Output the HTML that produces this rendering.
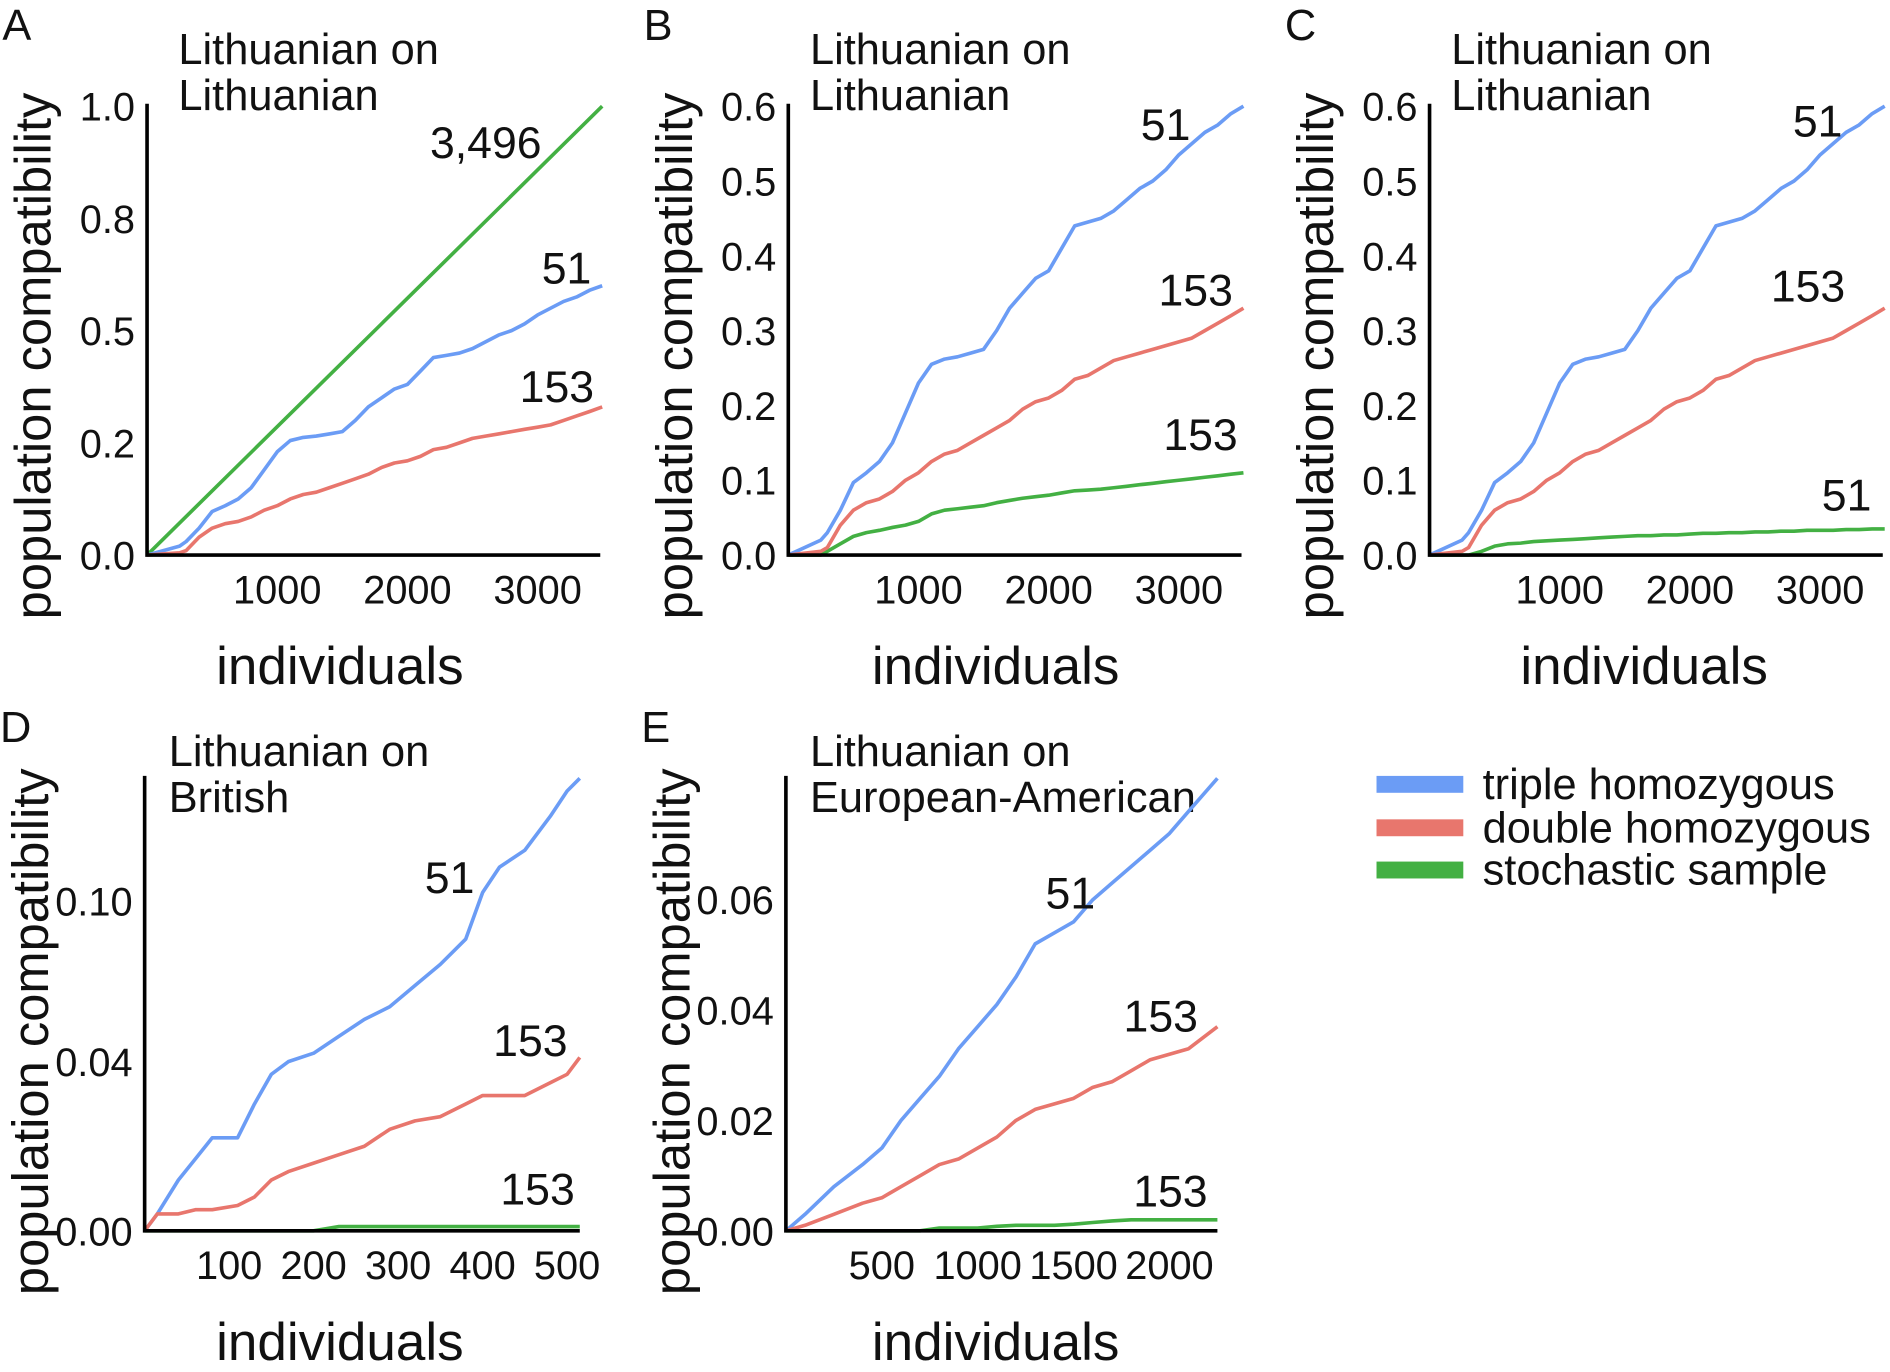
<!DOCTYPE html>
<html><head><meta charset="utf-8"><style>
html,body{margin:0;padding:0;background:#fff}
svg{display:block}
text{font-family:"Liberation Sans",Arial,sans-serif;fill:#111}
</style></head><body>
<svg id="fig" width="1890" height="1372" viewBox="0 0 1568 1137" preserveAspectRatio="none" xmlns="http://www.w3.org/2000/svg"></svg>
<script>
// ---- data ----
const xABC = [0,250,300,400,500,600,700,800,900,1000,1100,1200,1300,1400,1500,1600,1700,1800,1900,2000,2100,2200,2300,2400,2500,2600,2700,2800,2900,3000,3100,3200,3300,3400,3496];
const blueABC = [0,0.02,0.03,0.06,0.097,0.11,0.125,0.15,0.19,0.23,0.255,0.262,0.265,0.27,0.275,0.3,0.33,0.35,0.37,0.38,0.41,0.44,0.445,0.45,0.46,0.475,0.49,0.5,0.515,0.535,0.55,0.565,0.575,0.59,0.6];
const redABC = [0,0.005,0.01,0.04,0.06,0.07,0.075,0.085,0.1,0.11,0.125,0.135,0.14,0.15,0.16,0.17,0.18,0.195,0.205,0.21,0.22,0.235,0.24,0.25,0.26,0.265,0.27,0.275,0.28,0.285,0.29,0.3,0.31,0.32,0.33];
const greenA_x = [0,3496];
const greenA = [0,1];
const greenB = [0,0,0.005,0.015,0.025,0.03,0.033,0.037,0.04,0.045,0.055,0.06,0.062,0.064,0.066,0.07,0.073,0.076,0.078,0.08,0.083,0.086,0.087,0.088,0.09,0.092,0.094,0.096,0.098,0.1,0.102,0.104,0.106,0.108,0.11];
const greenC = [0,0,0,0.005,0.012,0.015,0.016,0.018,0.019,0.02,0.021,0.022,0.023,0.024,0.025,0.026,0.026,0.027,0.027,0.028,0.029,0.029,0.03,0.03,0.031,0.031,0.032,0.032,0.033,0.033,0.033,0.034,0.034,0.035,0.035];
const xD = [0,15,40,60,80,110,130,150,170,200,230,260,290,320,350,380,400,420,450,480,500,515];
const blueD = [0,0.004,0.012,0.017,0.022,0.022,0.03,0.037,0.04,0.042,0.046,0.05,0.053,0.058,0.063,0.069,0.08,0.086,0.09,0.098,0.104,0.107];
const redD = [0,0.004,0.004,0.005,0.005,0.006,0.008,0.012,0.014,0.016,0.018,0.02,0.024,0.026,0.027,0.03,0.032,0.032,0.032,0.035,0.037,0.041];
const greenD = [0,0,0,0,0,0,0,0,0,0,0.001,0.001,0.001,0.001,0.001,0.001,0.001,0.001,0.001,0.001,0.001,0.001];
const xE = [0,100,250,400,500,600,700,800,900,1000,1100,1200,1300,1400,1500,1600,1700,1800,1900,2000,2100,2250];
const blueE = [0,0.003,0.008,0.012,0.015,0.02,0.024,0.028,0.033,0.037,0.041,0.046,0.052,0.054,0.056,0.06,0.063,0.066,0.069,0.072,0.076,0.082];
const redE = [0,0.001,0.003,0.005,0.006,0.008,0.01,0.012,0.013,0.015,0.017,0.02,0.022,0.023,0.024,0.026,0.027,0.029,0.031,0.032,0.033,0.037];
const greenE = [0,0,0,0,0,0,0,0.0005,0.0005,0.0005,0.0008,0.001,0.001,0.001,0.0012,0.0015,0.0018,0.002,0.002,0.002,0.002,0.002];
const ticksAx = [1000,2000,3000];
const ticksAy = [0,0.25,0.5,0.75,1.0];
const ticksAyLab = ["0.0","0.2","0.5","0.8","1.0"];
const ticksBy = [0,0.1,0.2,0.3,0.4,0.5,0.6];
const ticksByLab = ["0.0","0.1","0.2","0.3","0.4","0.5","0.6"];
const ticksDx = [100,200,300,400,500];
const ticksDy = [0,0.04,0.078];
const ticksDyLab = ["0.00","0.04","0.10"];
const ticksEx = [500,1000,1500,2000];
const ticksEy = [0,0.02,0.04,0.06];
const ticksEyLab = ["0.00","0.02","0.04","0.06"];

const svg = document.getElementById('fig');
const NS = 'http://www.w3.org/2000/svg';
function mk(tag, attrs, parent){const e=document.createElementNS(NS,tag);for(const k in attrs)e.setAttribute(k,attrs[k]);(parent||svg).appendChild(e);return e;}
function txt(s,x,y,size,anchor,parent){const t=mk('text',{x:x,y:y,'font-size':size,'text-anchor':anchor||'start'},parent);t.textContent=s;return t;}
const COL={blue:'#6b9cf5',red:'#e8766d',green:'#43b043'};

function panel(cfg){
  const g=mk('g',{});
  
  
  const sx=v=>cfg.x0+(v-0)/(cfg.xmax)*(cfg.x1-cfg.x0);
  const sy=v=>cfg.y0-v/cfg.ymax*(cfg.y0-cfg.y1);
  const L=txt(cfg.letter,cfg.x0-120,cfg.ytop+33,36,'start',g);
  
  
  const t1=txt(cfg.title[0],cfg.x0+cfg.tdx,cfg.ytop+53,36,'start',g);
  
  
  const t2=txt(cfg.title[1],cfg.x0+cfg.tdx,cfg.ytop+91,36,'start',g);
  
  
  cfg.series.forEach(s=>{
    let d='';
    s.xs.forEach((xv,i)=>{
      const X=sx(xv).toFixed(1),Y=sy(s.ys[i]).toFixed(1);
      d+=(i===0?'M':' L')+X+' '+Y;
    });
    const p=mk('path',{d:d,fill:'none',stroke:COL[s.c],'stroke-width':3,'stroke-linejoin':'round'},g);
    
    
  });
  const ax=mk('path',{d:`M${cfg.x0} ${cfg.y1-2} V${cfg.y0} H${cfg.x1}`,fill:'none',stroke:'#000','stroke-width':3},g);
  
  
  cfg.xt.forEach(v=>{const t=txt(String(v),sx(v),cfg.y0+40,33,'middle',g);
    
    });
  cfg.yt.forEach((v,i)=>{const t=txt(cfg.ytl[i],cfg.x0-10,sy(v)+12,33,'end',g);
    
    });
  const xt=txt('individuals',cfg.xtc,cfg.y0+107,44,'middle',g);
  
  
  const yc=cfg.y0-165, yx=cfg.x0-80;
  const yt=txt('population compatibility',yx,yc,42,'middle',g);
  yt.setAttribute('transform',`rotate(-90 ${yx} ${yc})`);
  
  
  cfg.notes.forEach(n=>{const t=txt(n[0],n[1],n[2],37,'middle',g);
    
    });
}
const T1=['Lithuanian on','Lithuanian'];
const XM=3496*376/377.6;
panel({letter:'A',x0:122,x1:498,xmax:XM,y0:460,y1:88,ymax:1,ytop:0,tdx:26,xtc:282,title:T1,xt:ticksAx,yt:ticksAy,ytl:ticksAyLab,
  series:[{xs:greenA_x,ys:greenA,c:'green',name:'stochastic'},{xs:xABC,ys:blueABC,c:'blue',name:'triple'},{xs:xABC,ys:redABC,c:'red',name:'double'}],
  notes:[['3,496',403,131],['51',470,235],['153',462,333]]});
panel({letter:'B',x0:654,x1:1030,xmax:XM,y0:460,y1:88,ymax:0.6,ytop:0,tdx:18,xtc:826,title:T1,xt:ticksAx,yt:ticksBy,ytl:ticksByLab,
  series:[{xs:xABC,ys:greenB,c:'green',name:'stochastic'},{xs:xABC,ys:blueABC,c:'blue',name:'triple'},{xs:xABC,ys:redABC,c:'red',name:'double'}],
  notes:[['51',967,116],['153',992,253],['153',996,373]]});
panel({letter:'C',x0:1186,x1:1562,xmax:XM,y0:460,y1:88,ymax:0.6,ytop:0,tdx:18,xtc:1364,title:T1,xt:ticksAx,yt:ticksBy,ytl:ticksByLab,
  series:[{xs:xABC,ys:greenC,c:'green',name:'stochastic'},{xs:xABC,ys:blueABC,c:'blue',name:'triple'},{xs:xABC,ys:redABC,c:'red',name:'double'}],
  notes:[['51',1508,113],['153',1500,250],['51',1532,423]]});
panel({letter:'D',x0:120,x1:481,xmax:515,y0:1020,y1:645,ymax:0.107,ytop:582,tdx:20,xtc:282,title:['Lithuanian on','British'],xt:ticksDx,yt:ticksDy,ytl:ticksDyLab,
  series:[{xs:xD,ys:greenD,c:'green',name:'stochastic'},{xs:xD,ys:blueD,c:'blue',name:'triple'},{xs:xD,ys:redD,c:'red',name:'double'}],
  notes:[['51',373,740],['153',440,875],['153',446,998]]});
panel({letter:'E',x0:652,x1:1010,xmax:2250,y0:1020,y1:645,ymax:0.082,ytop:582,tdx:20,xtc:826,title:['Lithuanian on','European-American'],xt:ticksEx,yt:ticksEy,ytl:ticksEyLab,
  series:[{xs:xE,ys:greenE,c:'green',name:'stochastic'},{xs:xE,ys:blueE,c:'blue',name:'triple'},{xs:xE,ys:redE,c:'red',name:'double'}],
  notes:[['51',888,753],['153',963,855],['153',971,1000]]});
const lg=mk('g',{});


[['triple homozygous','blue',650],['double homozygous','red',686],['stochastic sample','green',721]].forEach(e=>{
  const r=mk('rect',{x:1142,y:e[2]-7,width:72,height:14,fill:COL[e[1]]},lg);
  
  
  const t=txt(e[0],1230,e[2]+12,36,'start',lg);
  
  
});
</script>
</body></html>
